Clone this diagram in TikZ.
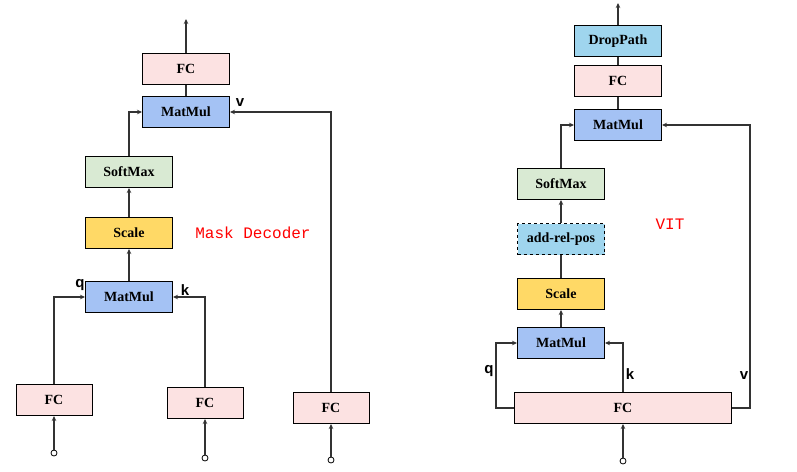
\documentclass[tikz,border=0pt]{standalone}
\usepackage{fontspec}
\setmainfont{Liberation Serif}
\newfontfamily\labelfont{Liberation Sans}
\newfontfamily\titlefont{Liberation Mono}
\usetikzlibrary{arrows.meta, positioning}

\definecolor{fcpink}{RGB}{252,226,226}
\definecolor{mmblue}{RGB}{164,194,244}
\definecolor{smgreen}{RGB}{217,234,211}
\definecolor{scyellow}{RGB}{255,217,102}
\definecolor{dpblue}{RGB}{159,213,238}

\begin{document}
\begin{tikzpicture}[
    x=1pt, y=-1pt,               % Pixel-Koordinaten, y nach unten
    box/.style={draw, line width=1pt, minimum width=87pt, minimum height=31pt, inner sep=0pt, font=\fontsize{14}{16}\selectfont\bfseries},
    fc/.style={box, fill=fcpink},
    matmul/.style={box, fill=mmblue},
    softmax/.style={box, fill=smgreen},
    scalebox/.style={box, fill=scyellow},
    drop/.style={box, fill=dpblue},
    inp/.style={circle, draw, fill=white, line width=0.8pt, minimum size=6pt, inner sep=0pt},
    lbl/.style={font=\labelfont\fontsize{15}{17}\selectfont\bfseries},
    title/.style={text=red, font=\titlefont\fontsize{16}{18}\selectfont},
    arrow/.style={-{Stealth[length=5pt,width=4.5pt]}, line width=1.1pt, draw=black!80},
    line/.style={line width=1.1pt, draw=black!80}
  ]
  \useasboundingbox (0,0) rectangle (797,471);

  % Mask Decoder (links)
  \node[fc]       (fcout1) at (186,69)  {FC};
  \node[matmul]   (mmv1)   at (186,112) {MatMul};
  \node[softmax]  (sm1)    at (129,172) {SoftMax};
  \node[scalebox] (sc1)    at (129,233) {Scale};
  \node[matmul]   (mmqk1)  at (129,297) {MatMul};
  \node[fc, minimum width=76pt] (fcq1) at (54,400)  {FC};
  \node[fc, minimum width=76pt] (fck1) at (205,403) {FC};
  \node[fc, minimum width=76pt] (fcv1) at (331,408) {FC};

  \node[inp] (inq1) at (54,453)  {};
  \node[inp] (ink1) at (205,458) {};
  \node[inp] (inv1) at (331,460) {};
  \coordinate (out1) at (186,19);

  \node[lbl] (lq1) at (80,285)  {q};
  \node[lbl] (lk1) at (185,290) {k};
  \node[lbl] (lv1) at (240,103) {v};
  \node[title] (tmask) at (253,233) {Mask Decoder};

  \draw[arrow] (inq1) -- (fcq1);
  \draw[arrow] (ink1) -- (fck1);
  \draw[arrow] (inv1) -- (fcv1);
  \draw[arrow] (fcq1.north) |- (mmqk1.west);
  \draw[arrow] (fck1.north) |- (mmqk1.east);
  \draw[arrow] (mmqk1) -- (sc1);
  \draw[arrow] (sc1) -- (sm1);
  \draw[arrow] (sm1.north) |- (mmv1.west);
  \draw[arrow] (fcv1.north) |- (mmv1.east);
  \draw[line]  (mmv1) -- (fcout1);
  \draw[arrow] (fcout1) -- (out1);

  % VIT (rechts)
  \node[drop]     (dp2)    at (618,41)  {DropPath};
  \node[fc]       (fcout2) at (618,81)  {FC};
  \node[matmul]   (mmv2)   at (618,125) {MatMul};
  \node[softmax]  (sm2)    at (561,184) {SoftMax};
  \node[drop, dashed] (arp2) at (561,239) {add-rel-pos};
  \node[scalebox] (sc2)    at (561,294) {Scale};
  \node[matmul]   (mmqk2)  at (561,343) {MatMul};
  \node[fc, minimum width=217pt] (fcin2) at (623,408) {FC};

  \node[inp] (in2) at (623,461) {};
  \coordinate (out2) at (618,3);
  \coordinate (qc2) at (496,408);
  \coordinate (vc2) at (750,408);

  \node[lbl] (lq2) at (489,371) {q};
  \node[lbl] (lk2) at (630,374) {k};
  \node[lbl] (lv2) at (744,376) {v};
  \node[title] (tvit) at (670,224) {VIT};

  \draw[arrow] (in2) -- (fcin2);
  \draw[arrow] (fcin2.west) -- (qc2) |- (mmqk2.west);
  \draw[arrow] (fcin2.north) |- (mmqk2.east);
  \draw[arrow] (fcin2.east) -- (vc2) |- (mmv2.east);
  \draw[arrow] (mmqk2) -- (sc2);
  \draw[line]  (sc2) -- (arp2);
  \draw[arrow] (arp2) -- (sm2);
  \draw[arrow] (sm2.north) |- (mmv2.west);
  \draw[line]  (mmv2) -- (fcout2);
  \draw[line]  (fcout2) -- (dp2);
  \draw[arrow] (dp2) -- (out2);

\end{tikzpicture}
\end{document}
